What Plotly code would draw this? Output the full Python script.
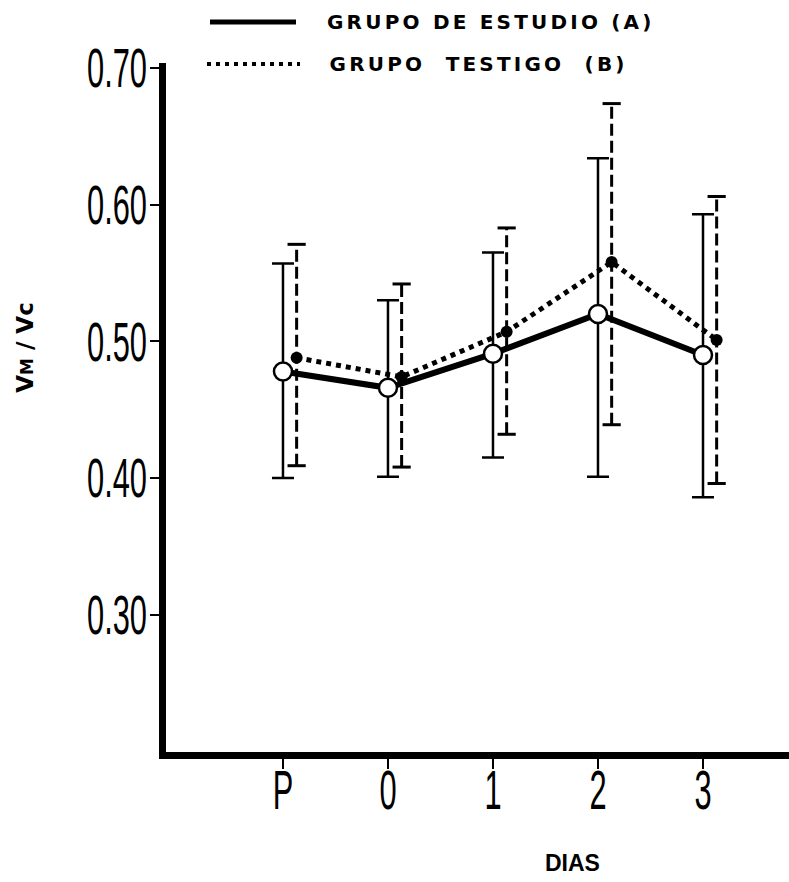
import plotly.graph_objects as go

# ---- data ----
categories = ["P", "0", "1", "2", "3"]
a_mean = [0.478, 0.466, 0.491, 0.520, 0.490]
a_hi = [0.557, 0.530, 0.565, 0.634, 0.593]
a_lo = [0.400, 0.401, 0.415, 0.401, 0.386]
b_mean = [0.488, 0.474, 0.507, 0.558, 0.501]
b_hi = [0.571, 0.542, 0.583, 0.674, 0.606]
b_lo = [0.409, 0.408, 0.432, 0.439, 0.396]
y_ticks = [0.30, 0.40, 0.50, 0.60, 0.70]
y_ticklabels = ["0.30", "0.40", "0.50", "0.60", "0.70"]
legend_a = "GRUPO DE ESTUDIO (A)"
legend_b = "GRUPO  TESTIGO  (B)"

# ---- layout geometry ----
W, H = 789, 882
ML, MR, MT, MB = 166, 0, 63, 129.5
B_OFF = 0.13
TICKFONT = "Liberation Sans"
TEXTFONT = "DejaVu Sans"

xa = list(range(len(categories)))
xb = [x + B_OFF for x in xa]

def px(xp):
    return (xp - ML) / (W - ML - MR)

def py(yp):
    return (H - MB - yp) / (H - MT - MB)

fig = go.Figure()

# B dashed error bars
ex, ey = [], []
for x, lo, hi in zip(xb, b_lo, b_hi):
    ex += [x, x, None]
    ey += [lo, hi, None]
fig.add_trace(go.Scatter(x=ex, y=ey, mode="lines",
                         line=dict(color="black", width=3, dash="12px,5px"),
                         hoverinfo="skip", showlegend=False))
fig.add_trace(go.Scatter(x=xb + xb, y=b_hi + b_lo, mode="markers",
                         marker=dict(symbol="line-ew", size=13,
                                     line=dict(color="black", width=3)),
                         hoverinfo="skip", showlegend=False))

# A solid error bars
fig.add_trace(go.Scatter(
    x=xa, y=a_mean, mode="markers",
    marker=dict(size=1, color="rgba(0,0,0,0)"),
    error_y=dict(type="data", symmetric=False,
                 array=[h - m for h, m in zip(a_hi, a_mean)],
                 arrayminus=[m - l for m, l in zip(a_mean, a_lo)],
                 color="black", thickness=2.5, width=11),
    showlegend=False, hoverinfo="skip"))

# B dotted line with filled markers
fig.add_trace(go.Scatter(x=xb, y=b_mean, mode="lines+markers",
                         line=dict(color="black", width=5, dash="5px,5px"),
                         marker=dict(symbol="circle", size=12, color="black"),
                         name=legend_b, showlegend=False))

# A solid line with open markers
fig.add_trace(go.Scatter(x=xa, y=a_mean, mode="lines+markers",
                         line=dict(color="black", width=6),
                         marker=dict(symbol="circle", size=18, color="white",
                                     line=dict(color="black", width=2.5)),
                         name=legend_a, showlegend=False))

# legend drawn manually
shapes = [
    dict(type="line", xref="paper", yref="paper",
         x0=px(210), x1=px(296), y0=py(22), y1=py(22),
         line=dict(color="black", width=5)),
    dict(type="line", xref="paper", yref="paper",
         x0=px(207), x1=px(300), y0=py(64), y1=py(64),
         line=dict(color="black", width=4, dash="4px,5px")),
]
annotations = [
    dict(text=legend_a, xref="paper", yref="paper", x=px(357), y=py(22),
         xanchor="left", yanchor="middle", showarrow=False,
         font=dict(family=TEXTFONT, size=20, color="black", weight="bold")),
    dict(text=legend_b, xref="paper", yref="paper", x=px(358), y=py(64),
         xanchor="left", yanchor="middle", showarrow=False,
         font=dict(family=TEXTFONT, size=20, color="black", weight="bold")),
    dict(text="DIAS", xref="paper", yref="paper", x=px(572), y=py(864),
         xanchor="center", yanchor="middle", showarrow=False,
         font=dict(family="Liberation Sans", size=23, color="black", weight="bold")),
    dict(text="V<span style='font-size:17px'>M</span> / Vc", xref="paper", yref="paper",
         x=px(25), y=py(348), xanchor="center", yanchor="middle", textangle=-90,
         showarrow=False,
         font=dict(family=TEXTFONT, size=23, color="black", weight="bold")),
]

fig.update_layout(
    width=W, height=H,
    margin=dict(l=ML, r=MR, t=MT, b=MB),
    paper_bgcolor="white", plot_bgcolor="white",
    shapes=shapes, annotations=annotations,
    showlegend=False,
    xaxis=dict(range=[-1.114, 4.819], tickmode="array", tickvals=xa,
               ticktext=categories, showgrid=False, zeroline=False,
               showline=True, linecolor="black", linewidth=7,
               ticks="outside", ticklen=10, tickwidth=2, tickcolor="black",
               ticklabelstandoff=-26,
               tickfont=dict(family=TICKFONT, size=55, color="black")),
    yaxis=dict(range=[0.1995, 0.7037], tickmode="array", tickvals=y_ticks,
               ticktext=y_ticklabels, showgrid=False, zeroline=False,
               showline=True, linecolor="black", linewidth=7,
               ticks="outside", ticklen=9, tickwidth=2, tickcolor="black",
               ticklabelstandoff=-8,
               tickfont=dict(family=TICKFONT, size=55, color="black")),
)

# narrow the tall tick numerals (keeps them as real text) and widen legend spacing
post = """
var gd = document.getElementById('{plot_id}');
var S = 0.56;
gd.querySelectorAll('g.xtick text, g.ytick text').forEach(function(t){
  var x = parseFloat(t.getAttribute('x') || '0');
  var tr = t.getAttribute('transform') || '';
  t.setAttribute('transform', tr + ' translate(' + (x * (1 - S)) + ',0) scale(' + S + ',1)');
});
gd.querySelectorAll('text').forEach(function(t){
  if ((t.textContent || '').indexOf('GRUPO') === 0) { t.style.letterSpacing = '3.2px'; }
});
"""

fig.write_html("out.html", post_script=post)
